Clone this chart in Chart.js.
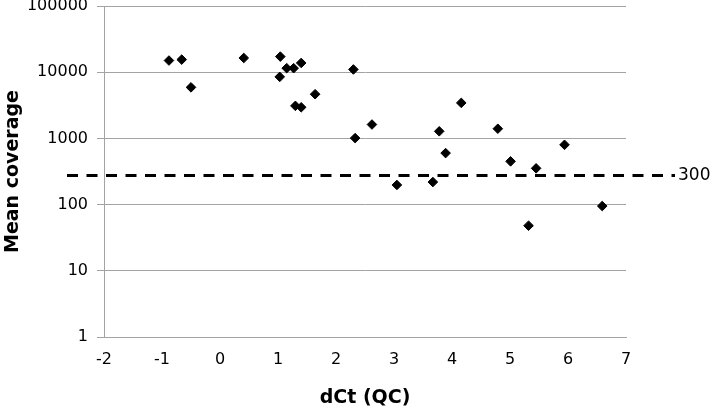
<!DOCTYPE html>
<html>
<head>
<meta charset="utf-8">
<script src="https://cdn.jsdelivr.net/npm/chart.js@4/dist/chart.umd.min.js"></script>
<style>
  body { margin: 0; background: #fff; }
  #wrap { width: 712px; height: 408px; position: relative; }
</style>
</head>
<body>
<div id="wrap"><canvas id="chart"></canvas></div>
<script>
// dCt (QC) per sample
const dctValues = [-0.88, -0.66, -0.50, 0.41, 1.04, 1.03, 1.15, 1.27, 1.40, 1.30, 1.40, 1.64, 2.30,
                   2.33, 2.62, 3.05, 3.67, 3.78, 3.89, 4.16, 4.79, 5.01, 5.45, 5.32, 5.94, 6.59];
// mean coverage per sample
const coverageValues = [15000, 15500, 5900, 16400, 17200, 8500, 11500, 11500, 13800, 3100, 2950, 4650, 11000,
                        1010, 1620, 198, 219, 1280, 600, 3440, 1400, 450, 353, 48, 800, 95];

const xTickValues = [-2, -1, 0, 1, 2, 3, 4, 5, 6, 7];
const yTickValues = [1, 10, 100, 1000, 10000, 100000];

// threshold line (drawn position) and its label
const thresholdValue = 275;
const thresholdLabel = '300';

const gridColor = '#a3a3a3';

// dashed threshold line, running a bit past the plot on both sides
const thresholdPlugin = {
    id: 'threshold',
    afterDatasetsDraw(chart) {
        const { ctx, chartArea, scales } = chart;
        const y = scales.y.getPixelForValue(thresholdValue);
        const x0 = chartArea.left - 37;
        const x1 = chartArea.right + 49;
        ctx.save();
        ctx.strokeStyle = '#000';
        ctx.lineWidth = 3;
        ctx.setLineDash([11, 8.5]);
        ctx.beginPath();
        ctx.moveTo(x0, y);
        ctx.lineTo(x1, y);
        ctx.stroke();
        ctx.setLineDash([]);
        ctx.fillStyle = '#000';
        ctx.font = '17px "DejaVu Sans"';
        ctx.textAlign = 'left';
        ctx.textBaseline = 'middle';
        ctx.fillText(thresholdLabel, x1 + 3, y);
        ctx.restore();
    }
};

const ctx = document.getElementById('chart').getContext('2d');
new Chart(ctx, {
    type: 'scatter',
    data: {
        datasets: [{
            label: 'samples',
            data: dctValues.map((x, i) => ({ x: x, y: coverageValues[i] })),
            pointStyle: 'rectRot',
            pointRadius: 4.8,
            pointBorderWidth: 1,
            backgroundColor: '#000',
            borderColor: '#000'
        }]
    },
    options: {
        responsive: true,
        maintainAspectRatio: false,
        animation: false,
        layout: { padding: { left: 0, top: 6, right: 86, bottom: 0 } },
        plugins: {
            legend: { display: false },
            tooltip: { enabled: false }
        },
        scales: {
            x: {
                type: 'linear',
                min: -2,
                max: 7,
                afterBuildTicks: s => { s.ticks = xTickValues.map(v => ({ value: v })); },
                afterFit: s => { s.height = 71; s.paddingLeft = 0; s.paddingRight = 0; },
                grid: { color: 'transparent', drawTicks: false },
                border: { display: true, color: gridColor, width: 1 },
                ticks: {
                    color: '#000',
                    padding: 13,
                    font: { family: 'DejaVu Sans', size: 16 },
                    callback: v => String(v)
                },
                title: {
                    display: true,
                    text: 'dCt (QC)',
                    color: '#000',
                    padding: { top: 0, bottom: 0 },
                    font: { family: 'DejaVu Sans', size: 19, weight: 'bold', lineHeight: 1.0 }
                }
            },
            y: {
                type: 'logarithmic',
                min: 1,
                max: 100000,
                afterBuildTicks: s => { s.ticks = yTickValues.map(v => ({ value: v })); },
                afterFit: s => { s.width = 104; s.paddingTop = 0; s.paddingBottom = 0; },
                grid: { color: gridColor, lineWidth: 1, tickLength: 7 },
                border: { display: true, color: gridColor, width: 1 },
                ticks: {
                    color: '#000',
                    padding: 9,
                    font: { family: 'DejaVu Sans', size: 16 },
                    callback: v => String(v)
                },
                title: {
                    display: true,
                    text: 'Mean coverage',
                    color: '#000',
                    padding: { top: 2, bottom: 0 },
                    font: { family: 'DejaVu Sans', size: 19, weight: 'bold' }
                }
            }
        }
    },
    plugins: [thresholdPlugin]
});
</script>
</body>
</html>
